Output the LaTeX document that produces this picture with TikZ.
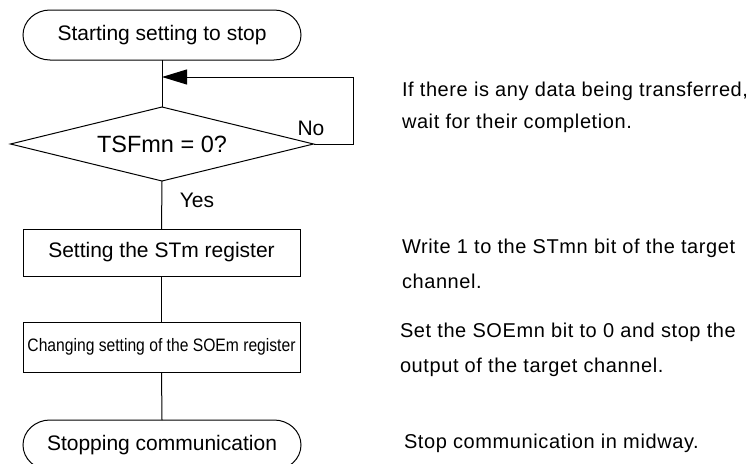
\documentclass[tikz,border=0pt]{standalone}
\usepackage{fontspec}
\setmainfont{Liberation Sans}
\newfontfamily\rtfont[LetterSpace=3]{Liberation Sans}
\usetikzlibrary{arrows.meta,shapes.geometric}
\tikzset{
  every node/.style={inner sep=0pt, outer sep=0pt},
  base/.style={font=\fontsize{21pt}{25pt}\selectfont},
  term/.style={base, minimum width=278pt, minimum height=50pt},
  proc/.style={draw, line width=1pt, minimum width=277pt},
  dec/.style={draw, line width=1pt, diamond, aspect=4.1, minimum width=303pt, minimum height=74pt, font=\fontsize{23.5pt}{27pt}\selectfont},
  note/.style={anchor=base west, font=\rtfont\fontsize{20pt}{24pt}\selectfont},
  lbl/.style={base},
  conn/.style={line width=1pt},
}
\newcommand{\termoutline}[1]{%
  \draw[conn] ([xshift=27]#1.north west) -- ([xshift=-27]#1.north east)
    arc[start angle=90,end angle=-90,x radius=27pt,y radius=25pt]
    -- ([xshift=27]#1.south west)
    arc[start angle=270,end angle=90,x radius=27pt,y radius=25pt] -- cycle;}
\begin{document}
\begin{tikzpicture}[x=1pt,y=-1pt]
\useasboundingbox (0,0) rectangle (754,463);
\fill[white] (0,0) rectangle (754,463);
% flow
\node[term] (start) at (162,35) {Starting setting to stop};
\termoutline{start}
\node[dec] (d) at (162,144) {TSFmn = 0?};
\node[proc, base, minimum height=47pt] (b1) at (161.5,252.5) {Setting the STm register};
\node[proc, minimum height=50pt, font=\fontsize{18pt}{22pt}\selectfont] (b2) at (161.5,347) {\scalebox{0.87}[1]{Changing setting of the SOEm register}};
\node[term] (stop) at (162,445) {Stopping communication};
\termoutline{stop}
% connectors
\coordinate (lp) at (162,77);
\coordinate (rc) at (353,144);
\draw[conn] (start.south) -- (d.north);
\draw[conn, -{Triangle[length=25pt,width=15pt]}] (d.east) -- (rc) |- (lp);
\draw[conn] (d.south) -- (b1.north);
\draw[conn] (b1.south) -- (b2.north);
\draw[conn] (b2.south) -- (stop.north);
% labels
\node[lbl] (no) at (311,128) {No};
\node[lbl] (yes) at (197,200) {Yes};
% notes
\node[note] (n1) at (402,96) {If there is any data being transferred,};
\node[note] (n2) at (402,128) {wait for their completion.};
\node[note] (n3) at (402,253) {Write 1 to the STmn bit of the target};
\node[note] (n4) at (402,288) {channel.};
\node[note] (n5) at (400,337) {Set the SOEmn bit to 0 and stop the};
\node[note] (n6) at (400,372) {output of the target channel.};
\node[note] (n7) at (404,448) {Stop communication in midway.};
\end{tikzpicture}
\end{document}
